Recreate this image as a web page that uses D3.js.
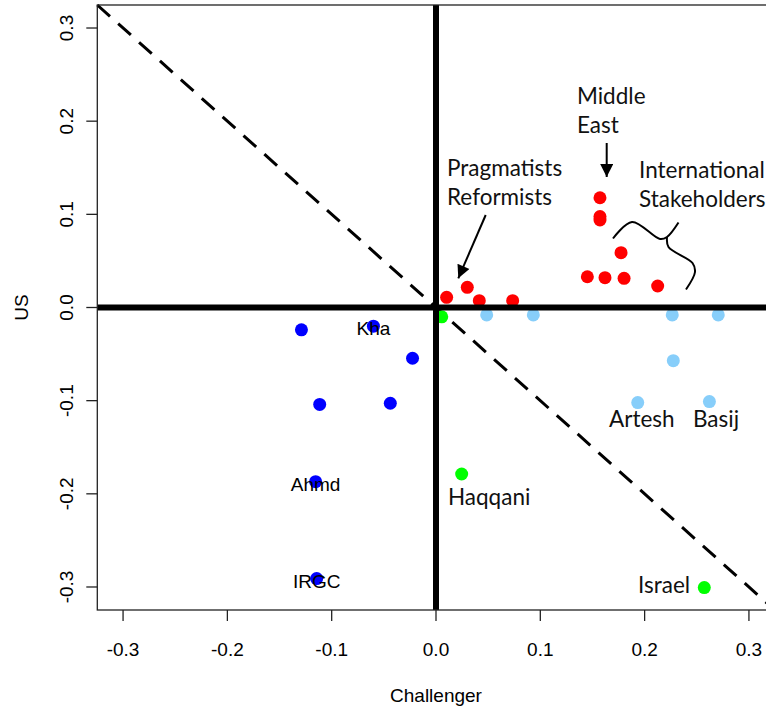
<!DOCTYPE html>
<html>
<head>
<meta charset="utf-8">
<script src="https://cdn.jsdelivr.net/npm/d3@7"></script>
<style>
  html, body { margin: 0; padding: 0; background: #fff; }
  svg { display: block; }
</style>
</head>
<body>
<svg id="chart" width="766" height="709"></svg>
<script>
// ---------- data ----------
const xTicks = [-0.3, -0.2, -0.1, 0.0, 0.1, 0.2, 0.3];
const yTicks = [-0.3, -0.2, -0.1, 0.0, 0.1, 0.2, 0.3];
const xTitle = "Challenger";
const yTitle = "US";

// blue: hardliners
const blueX = [-0.129, -0.060, -0.0225, -0.1115, -0.0438, -0.1154, -0.1144];
const blueY = [-0.024, -0.020, -0.0545, -0.104, -0.1028, -0.187, -0.291];
const blueLabels = ["", "Kha", "", "", "", "Ahmd", "IRGC"];

// green
const greenX = [0.0055, 0.0246, 0.2572];
const greenY = [-0.010, -0.1787, -0.3006];

// red
const redX = [0.0102, 0.030, 0.0415, 0.0735, 0.1572, 0.1572, 0.1572, 0.1774, 0.1451, 0.162, 0.1803, 0.2125];
const redY = [0.0109, 0.0217, 0.0073, 0.0073, 0.1178, 0.0976, 0.0939, 0.0588, 0.033, 0.032, 0.0313, 0.0231];

// light blue
const lblueX = [0.0486, 0.0933, 0.2265, 0.2706, 0.2275, 0.1934, 0.2621];
const lblueY = [-0.008, -0.008, -0.008, -0.008, -0.0571, -0.1021, -0.101];

// ---------- layout ----------
const svg = d3.select("#chart");
const mLeft = 97.3, mTop = 5, mBottom = 610;
const lim = 0.3247;
const x = d3.scaleLinear().domain([-lim, lim]).range([mLeft, mLeft + (436 - mLeft) * 2]);
const y = d3.scaleLinear().domain([-lim, lim]).range([mBottom, mTop]);
const axisFont = "'Liberation Sans', Arial, sans-serif";
const noteFont = "Lato, 'Open Sans', sans-serif";

// dashed diagonal y = -x
svg.append("line")
  .attr("x1", x(-lim)).attr("y1", y(lim))
  .attr("x2", x(lim)).attr("y2", y(-lim))
  .attr("stroke", "#000").attr("stroke-width", 3)
  .attr("stroke-dasharray", "17,11");

// points
function drawPts(xs, ys, color) {
  svg.append("g").selectAll("circle")
    .data(xs.map((d, i) => [d, ys[i]]))
    .join("circle")
    .attr("cx", d => x(d[0])).attr("cy", d => y(d[1]))
    .attr("r", 6.5).attr("fill", color);
}
drawPts(blueX, blueY, "#0000FF");
drawPts(greenX, greenY, "#00FF00");
drawPts(redX, redY, "#FF0000");
drawPts(lblueX, lblueY, "#87CEFA");

// thick zero lines
svg.append("line")
  .attr("x1", mLeft).attr("x2", 766)
  .attr("y1", y(0)).attr("y2", y(0))
  .attr("stroke", "#000").attr("stroke-width", 6);
svg.append("line")
  .attr("x1", x(0)).attr("x2", x(0))
  .attr("y1", mTop).attr("y2", mBottom)
  .attr("stroke", "#000").attr("stroke-width", 6);

// R labels on points
svg.append("g").selectAll("text")
  .data(blueX.map((d, i) => [d, blueY[i], blueLabels[i]]).filter(d => d[2]))
  .join("text")
  .attr("x", d => x(d[0])).attr("y", d => y(d[1]))
  .attr("dy", 2.5)
  .attr("text-anchor", "middle").attr("dominant-baseline", "central")
  .attr("font-family", axisFont).attr("font-size", 19).attr("fill", "#000")
  .text(d => d[2]);

// box
svg.append("rect")
  .attr("x", mLeft).attr("y", mTop)
  .attr("width", x(lim) - mLeft).attr("height", mBottom - mTop)
  .attr("fill", "none").attr("stroke", "#222").attr("stroke-width", 1.3);

// x axis ticks
const tickLen = 11;
const gx = svg.append("g");
gx.selectAll("line").data(xTicks).join("line")
  .attr("x1", d => x(d)).attr("x2", d => x(d))
  .attr("y1", mBottom).attr("y2", mBottom + tickLen)
  .attr("stroke", "#222").attr("stroke-width", 1.3);
gx.selectAll("text").data(xTicks).join("text")
  .attr("x", d => x(d)).attr("y", 656)
  .attr("text-anchor", "middle")
  .attr("font-family", axisFont).attr("font-size", 19).attr("fill", "#000")
  .text(d => d3.format(".1f")(d).replace("−", "-"));

// y axis ticks
const gy = svg.append("g");
gy.selectAll("line").data(yTicks).join("line")
  .attr("x1", mLeft - tickLen).attr("x2", mLeft)
  .attr("y1", d => y(d)).attr("y2", d => y(d))
  .attr("stroke", "#222").attr("stroke-width", 1.3);
gy.selectAll("text").data(yTicks).join("text")
  .attr("transform", d => `translate(73,${y(d)}) rotate(-90)`)
  .attr("text-anchor", "middle")
  .attr("font-family", axisFont).attr("font-size", 19).attr("fill", "#000")
  .text(d => d3.format(".1f")(d).replace("−", "-"));

// axis titles
svg.append("text")
  .attr("x", x(0)).attr("y", 702)
  .attr("text-anchor", "middle")
  .attr("font-family", axisFont).attr("font-size", 19).attr("fill", "#000")
  .text(xTitle);
svg.append("text")
  .attr("transform", `translate(28,${y(0)}) rotate(-90)`)
  .attr("text-anchor", "middle")
  .attr("font-family", axisFont).attr("font-size", 19).attr("fill", "#000")
  .text(yTitle);

// ---------- annotations ----------
const notes = [
  { lines: ["Middle", "East"], x: 577, y: 104 },
  { lines: ["Pragmatists", "Reformists"], x: 447, y: 176 },
  { lines: ["International", "Stakeholders"], x: 639, y: 178 },
  { lines: ["Artesh"], x: 609, y: 427 },
  { lines: ["Basij"], x: 693, y: 427 },
  { lines: ["Haqqani"], x: 448, y: 505 },
  { lines: ["Israel"], x: 638, y: 593 }
];
notes.forEach(n => {
  const t = svg.append("text")
    .attr("font-family", noteFont).attr("font-size", 22.5).attr("fill", "#111");
  n.lines.forEach((l, i) => {
    t.append("tspan").attr("x", n.x).attr("y", n.y + i * 28.5).text(l);
  });
});

// arrows
svg.append("defs").append("marker")
  .attr("id", "arr").attr("viewBox", "0 0 10 10")
  .attr("refX", 10).attr("refY", 5)
  .attr("markerUnits", "userSpaceOnUse")
  .attr("markerWidth", 15).attr("markerHeight", 13)
  .attr("orient", "auto")
  .append("path").attr("d", "M0,0 L10,5 L0,10 Z").attr("fill", "#000");

svg.append("line")
  .attr("x1", 606.7).attr("y1", 143).attr("x2", 606.7).attr("y2", 177)
  .attr("stroke", "#000").attr("stroke-width", 2)
  .attr("marker-end", "url(#arr)");
svg.append("line")
  .attr("x1", 485.7).attr("y1", 215).attr("x2", 458.3).attr("y2", 278.3)
  .attr("stroke", "#000").attr("stroke-width", 2)
  .attr("marker-end", "url(#arr)");

// curly brace
const brace = d3.line().curve(d3.curveCatmullRom.alpha(0.5));
svg.append("path")
  .attr("d", brace([[613, 238.5], [632, 222], [660, 239], [667, 237], [678.5, 222.5]]))
  .attr("fill", "none").attr("stroke", "#000").attr("stroke-width", 2);
svg.append("path")
  .attr("d", brace([[667, 237], [668.5, 247], [692.5, 263], [695, 272], [686, 289.5]]))
  .attr("fill", "none").attr("stroke", "#000").attr("stroke-width", 2);
</script>
</body>
</html>
